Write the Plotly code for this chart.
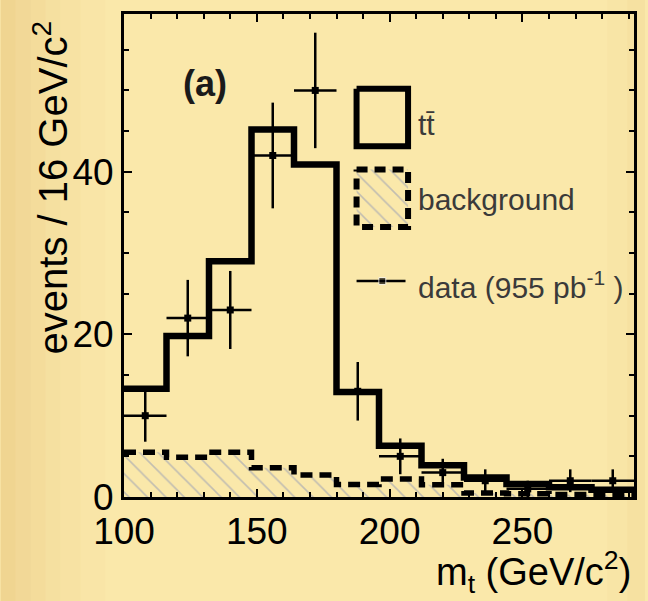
import plotly.graph_objects as go

# ---- data ----
bin_edges = [100, 116, 132, 148, 164, 180, 196, 212, 228, 244, 260, 276, 292]
bin_centers = [108, 124, 140, 156, 172, 188, 204, 220, 236, 252, 268, 284]
ttbar_total = [13.3, 19.8, 29.0, 45.2, 40.9, 12.9, 6.3, 3.9, 2.4, 1.6, 1.2, 0.9]
background = [5.5, 4.9, 5.5, 3.6, 2.7, 1.55, 2.2, 1.5, 0.5, 0.4, 0.3, 0.3]
data_counts = [10, 22, 23, 42, 50, 13, 5, 3, 2, 1, 2, 2]
data_err = [3.2, 4.7, 4.8, 6.5, 7.1, 3.6, 2.2, 1.7, 1.4, 1.0, 1.4, 1.4]
half_width = [8] * 12

x_ticks = [100, 150, 200, 250]
y_ticks = [0, 20, 40]

FONT = "Liberation Sans, Arial, sans-serif"
BG = "#FAE8AA"


def step_xy(vals):
    xs = list(bin_edges)
    ys = list(vals) + [vals[-1]]
    return xs, ys


fig = go.Figure()

bx, by = step_xy(background)
fig.add_trace(go.Scatter(
    x=bx, y=by, mode="lines", line=dict(shape="hv", width=0, color="rgba(0,0,0,0)"),
    fill="tozeroy", fillcolor="rgba(0,0,0,0)",
    fillpattern=dict(shape="\\", fgcolor="#8A93B8", bgcolor="rgba(0,0,0,0)", size=13, solidity=0.12),
    hoverinfo="skip", showlegend=False))
fig.add_trace(go.Scatter(
    x=bx, y=by, mode="lines", line=dict(shape="hv", width=5.5, color="black", dash="12px,7px"),
    hoverinfo="skip", showlegend=False))

tx, ty = step_xy(ttbar_total)
fig.add_trace(go.Scatter(
    x=tx, y=ty, mode="lines", line=dict(shape="hv", width=6.5, color="black"),
    hoverinfo="skip", showlegend=False))

fig.add_trace(go.Scatter(
    x=bin_centers, y=data_counts, mode="markers",
    marker=dict(symbol="square", size=7, color="black"),
    error_x=dict(type="data", array=half_width, width=0, thickness=2.5, color="black"),
    error_y=dict(type="data", array=data_err, width=0, thickness=2.5, color="black"),
    hoverinfo="skip", showlegend=False))

# ---- legend glyphs on an overlay axis (0..1 = plot area) ----
L, R = 0.456, 0.557
fig.add_trace(go.Scatter(
    x=[L, R, R, L, L], y=[0.845, 0.845, 0.726, 0.726, 0.845], mode="lines",
    line=dict(width=6, color="black"), xaxis="x2", yaxis="y2",
    hoverinfo="skip", showlegend=False))
fig.add_trace(go.Scatter(
    x=[L, R, R, L, L], y=[0.678, 0.678, 0.559, 0.559, 0.678], mode="lines",
    line=dict(width=0, color="rgba(0,0,0,0)"), fill="toself", fillcolor="rgba(0,0,0,0)",
    fillpattern=dict(shape="\\", fgcolor="#8A93B8", bgcolor="rgba(0,0,0,0)", size=13, solidity=0.12),
    xaxis="x2", yaxis="y2", hoverinfo="skip", showlegend=False))
fig.add_trace(go.Scatter(
    x=[L, R, R, L, L], y=[0.678, 0.678, 0.559, 0.559, 0.678], mode="lines",
    line=dict(width=6, color="black", dash="11px,7px"), xaxis="x2", yaxis="y2",
    hoverinfo="skip", showlegend=False))
fig.add_trace(go.Scatter(
    x=[L, (L + R) / 2, R - 0.005], y=[0.447, 0.447, 0.447], mode="lines+markers",
    line=dict(width=2.5, color="black"),
    marker=dict(symbol="square", size=[0, 7, 0], color="black"),
    xaxis="x2", yaxis="y2", hoverinfo="skip", showlegend=False))

axis_common = dict(
    showline=True, linewidth=3, linecolor="black", mirror="ticks",
    ticks="inside", ticklen=8, tickwidth=2, tickcolor="black",
    showgrid=False, zeroline=False,
    tickfont=dict(family=FONT, size=37, color="black"),
)

# soft background shading (decorative), in paper pixels converted to paper coords
PLOT_L, PLOT_W, PLOT_B, PLOT_H = 124, 513, 497, 485
shapes = []
def px2x(p):
    return (p - PLOT_L) / PLOT_W

bands_left = [(0, 15, 0.30), (15, 30, 0.24), (30, 45, 0.18), (45, 60, 0.13), (60, 80, 0.08), (80, 105, 0.04)]
for a, b, op in bands_left:
    shapes.append(dict(type="rect", xref="paper", yref="paper", x0=px2x(a), x1=px2x(b),
                       y0=-0.22, y1=1.03, fillcolor="#D9A85A", opacity=op, line_width=0, layer="below"))
bands_right = [(630, 648, 0.10), (610, 630, 0.05)]
for a, b, op in bands_right:
    shapes.append(dict(type="rect", xref="paper", yref="paper", x0=px2x(a), x1=px2x(b),
                       y0=-0.22, y1=1.03, fillcolor="#D9A85A", opacity=op, line_width=0, layer="below"))

fig.update_layout(
    width=648, height=601,
    margin=dict(l=124, r=11, t=12, b=104),
    paper_bgcolor=BG, plot_bgcolor="rgba(0,0,0,0)",
    font=dict(family=FONT, color="black"),
    xaxis=dict(range=[100, 292], tickvals=x_ticks,
               minor=dict(dtick=10, tick0=100, ticks="inside", ticklen=5, tickwidth=2, tickcolor="black"),
               **axis_common),
    yaxis=dict(range=[0, 59.4], tickvals=y_ticks,
               minor=dict(dtick=5, tick0=0, ticks="inside", ticklen=5, tickwidth=2, tickcolor="black"),
               **axis_common),
    xaxis2=dict(range=[0, 1], overlaying="x", visible=False, fixedrange=True),
    yaxis2=dict(range=[0, 1], overlaying="y", visible=False, fixedrange=True),
    showlegend=False,
    shapes=shapes,
)

ann = [
    dict(text="events / 16 GeV/c<sup>2</sup>", x=-0.144, y=0.64, textangle=-90,
         font=dict(size=40, family=FONT, color="black")),
    dict(text="m<sub>t</sub> (GeV/c<sup>2</sup>)", x=0.998, y=-0.155, xanchor="right",
         font=dict(size=38, family=FONT, color="black")),
    dict(text="<b>(a)</b>", x=0.158, y=0.856, font=dict(size=36, family=FONT, color="#1a1a1a")),
    dict(text="tt\u0304", x=0.573, y=0.771, xanchor="left",
         font=dict(size=30, family=FONT, color="#3a3a3a")),
    dict(text="background", x=0.573, y=0.616, xanchor="left",
         font=dict(size=30, family=FONT, color="#3a3a3a")),
    dict(text="data (955 pb<sup>-1</sup> )", x=0.573, y=0.439, xanchor="left",
         font=dict(size=30, family=FONT, color="#3a3a3a")),
]
for a in ann:
    a.update(xref="paper", yref="paper", showarrow=False)
    a.setdefault("xanchor", "center")
    a.setdefault("yanchor", "middle")
fig.update_layout(annotations=ann)

fig.write_html("out.html")
